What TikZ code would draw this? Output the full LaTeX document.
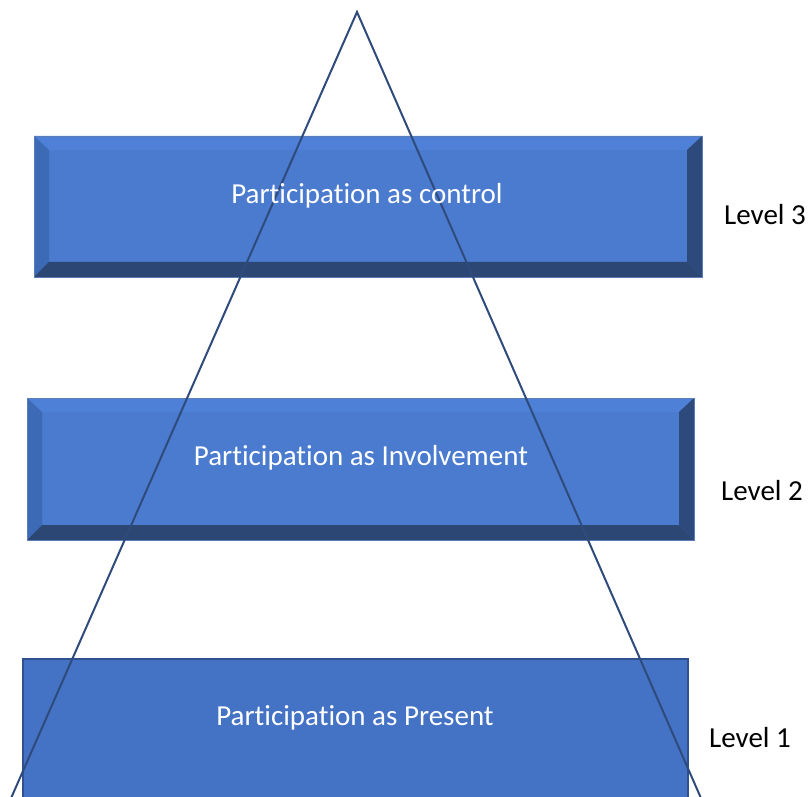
\documentclass[tikz,border=0pt]{standalone}
\usepackage{fontspec}
\setmainfont[Ligatures={NoCommon,NoRare}]{Carlito}
\usetikzlibrary{calc}
\definecolor{faceblue}{HTML}{4A7BCF}
\definecolor{topbev}{HTML}{4E80D7}
\definecolor{leftbev}{HTML}{3D6AB5}
\definecolor{bottombev}{HTML}{2D4775}
\definecolor{rightbev}{HTML}{2E4A7D}
\definecolor{flatblue}{HTML}{4472C4}
\definecolor{flatedge}{HTML}{2F528F}
\definecolor{lineblue}{HTML}{2F4B7C}
\tikzset{
  bevelbox/.style={rectangle, inner sep=0pt, fill=faceblue,
    draw=faceblue!70!gray, line width=0.6pt,
    path picture={
      \coordinate (pNW) at (path picture bounding box.north west);
      \coordinate (pNE) at (path picture bounding box.north east);
      \coordinate (pSW) at (path picture bounding box.south west);
      \coordinate (pSE) at (path picture bounding box.south east);
      \fill[topbev] (pNW) -- (pNE) -- ($(pNE)+(-15pt,-14pt)$) -- ($(pNW)+(15pt,-14pt)$) -- cycle;
      \fill[leftbev] (pNW) -- ($(pNW)+(15pt,-14pt)$) -- ($(pSW)+(15pt,15pt)$) -- (pSW) -- cycle;
      \fill[rightbev] (pNE) -- ($(pNE)+(-15pt,-14pt)$) -- ($(pSE)+(-15pt,15pt)$) -- (pSE) -- cycle;
      \fill[bottombev] (pSW) -- ($(pSW)+(15pt,15pt)$) -- ($(pSE)+(-15pt,15pt)$) -- (pSE) -- cycle;
    }},
  flatbox/.style={rectangle, inner sep=0pt, fill=flatblue, draw=flatedge, line width=1.2pt},
  boxtext/.style={text=white, font=\fontsize{29}{34}\selectfont},
  leveltext/.style={text=black, font=\fontsize{29}{34}\selectfont},
  pyramid/.style={draw=lineblue, line width=2pt}
}
\begin{document}
\begin{tikzpicture}[x=1pt,y=1pt]
  \useasboundingbox (0,0) rectangle (810,796);
  \begin{scope}
    \clip (0,0) rectangle (810,796);
    % three levels
    \node[bevelbox, minimum width=668pt, minimum height=141pt] (b3) at (368,589.5) {};
    \node[bevelbox, minimum width=667pt, minimum height=142pt] (b2) at (360.5,327) {};
    \node[flatbox, minimum width=665pt, minimum height=145pt] (b1) at (355.5,64.5) {};
    % pyramid outline
    \coordinate (apex) at (357,784);
    \coordinate (footL) at (7.6,-10);
    \coordinate (footR) at (704.4,-10);
    \draw[pyramid, line join=miter] (footL) -- (apex) -- (footR);
  \end{scope}
  % captions
  \node[boxtext] (t3) at (367,600) {Participation as control};
  \node[boxtext] (t2) at (361,338) {Participation as Involvement};
  \node[boxtext] (t1) at (355,78) {Participation as Present};
  \node[leveltext] (l3) at (765,581) {Level 3};
  \node[leveltext] (l2) at (762,305) {Level 2};
  \node[leveltext] (l1) at (750,58) {Level 1};
\end{tikzpicture}
\end{document}
